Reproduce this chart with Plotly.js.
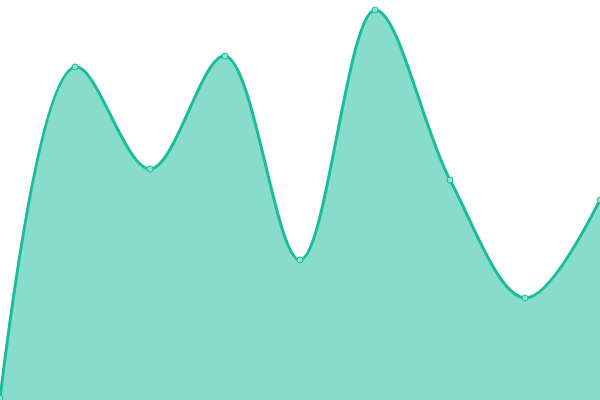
<!DOCTYPE html>
<html>
<head>
<meta charset="utf-8">
<script src="https://cdn.plot.ly/plotly-3.0.1.min.js"></script>
<style>html,body{margin:0;padding:0;background:#fff;}#chart{width:600px;height:400px;}</style>
</head>
<body>
<div id="chart"></div>
<script>
const categories = [0, 1, 2, 3, 4, 5, 6, 7, 8];
const values = [2, 333, 231, 344, 140, 390, 220, 102, 200];

Plotly.newPlot('chart', [{
  x: categories,
  y: values,
  type: 'scatter',
  mode: 'lines+markers',
  fill: 'tozeroy',
  fillcolor: 'rgba(26,188,156,0.52)',
  line: {color: '#1abc9c', width: 3, shape: 'spline', smoothing: 1},
  marker: {size: 6, color: '#8ee0cf', line: {color: '#1abc9c', width: 1}},
  cliponaxis: true,
  hoverinfo: 'none'
}], {
  width: 600, height: 400,
  margin: {l: 0, r: 0, t: 0, b: 0, pad: 0},
  paper_bgcolor: '#fff', plot_bgcolor: '#fff',
  showlegend: false,
  xaxis: {range: [0, 8], visible: false, fixedrange: true},
  yaxis: {range: [0, 400], visible: false, fixedrange: true}
}, {displayModeBar: false, staticPlot: true});
</script>
</body>
</html>
